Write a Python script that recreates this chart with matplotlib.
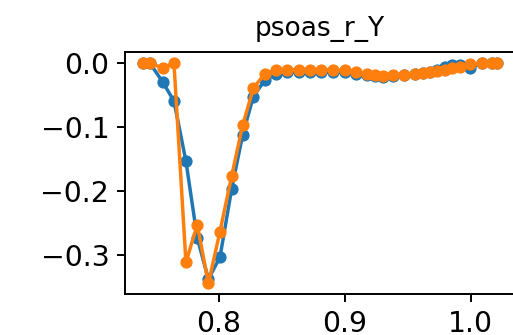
import numpy as np
import matplotlib
matplotlib.use('Agg')
import matplotlib.pyplot as plt

# tiempo (compartido por las dos series)
t = [0.7397, 0.7455, 0.7555, 0.7645, 0.7740, 0.7830, 0.7918, 0.8010, 0.8103,
     0.8190, 0.8275, 0.8367, 0.8455, 0.8545, 0.8637, 0.8725, 0.8812, 0.8904,
     0.9002, 0.9090, 0.9174, 0.9240, 0.9307, 0.9386, 0.9471, 0.9558, 0.9624,
     0.9677, 0.9730, 0.9796, 0.9849, 0.9915, 0.9994, 1.0087, 1.0167, 1.0206]

serieAzul = [0.0, 0.0, -0.029, -0.059, -0.153, -0.273, -0.337, -0.303, -0.196,
             -0.112, -0.052, -0.026, -0.017, -0.014, -0.014, -0.014, -0.014, -0.014,
             -0.014, -0.016, -0.018, -0.020, -0.021, -0.020, -0.018, -0.017, -0.015,
             -0.013, -0.010, -0.006, -0.003, -0.002, -0.007, 0.0, 0.0, 0.0]

serieNaranja = [0.0, 0.0, -0.007, 0.0, -0.311, -0.252, -0.344, -0.263, -0.176,
                -0.097, -0.039, -0.016, -0.011, -0.010, -0.010, -0.010, -0.010, -0.010,
                -0.011, -0.013, -0.016, -0.019, -0.020, -0.019, -0.018, -0.016, -0.015,
                -0.014, -0.012, -0.010, -0.008, -0.006, -0.001, 0.0, 0.0, 0.0]

titulo = 'psoas_r_Y'
xTicks = [0.8, 0.9, 1.0]
yTicks = [0.0, -0.1, -0.2, -0.3]

fig = plt.figure(figsize=(5.13, 3.35), dpi=100)
ax = fig.add_axes([0.2437, 0.1209, 0.759, 0.723])

ax.plot(t, serieAzul, 'o-', color='#1f77b4', lw=2.5, ms=7.8)
ax.plot(t, serieNaranja, 'o-', color='#ff7f0e', lw=2.5, ms=7.8)

ax.set_title(titulo, fontsize=19, pad=11.5)
ax.set_xticks(xTicks)
ax.set_yticks(yTicks)
ax.tick_params(labelsize=20.4, length=5.8, width=1.4, pad=5.5)
for s in ax.spines.values():
    s.set_linewidth(1.4)

fig.savefig('out.png', dpi=100)
